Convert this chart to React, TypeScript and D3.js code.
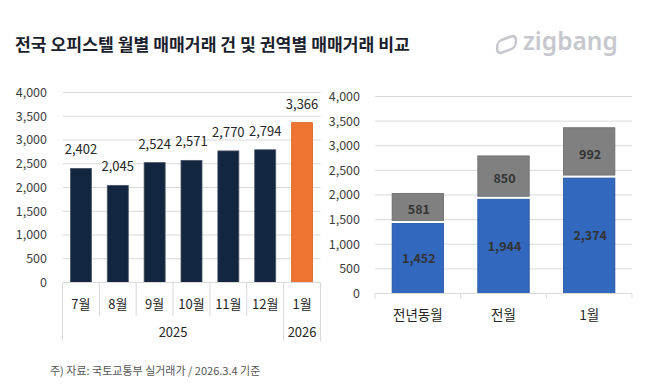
import React from 'react';
import * as d3 from 'd3';

const months = ['7월', '8월', '9월', '10월', '11월', '12월', '1월'];
const monthlyDeals = [2402, 2045, 2524, 2571, 2770, 2794, 3366];
const yearGroups = [
  { label: '2025', from: 0, to: 5 },
  { label: '2026', from: 6, to: 6 },
];
const regions = ['전년동월', '전월', '1월'];
const capitalDeals = [1452, 1944, 2374];
const otherDeals = [581, 850, 992];
const yTicks = [0, 500, 1000, 1500, 2000, 2500, 3000, 3500, 4000];

const W = 658;
const H = 390;
const FONT = "'Noto Sans CJK KR', 'Noto Sans', sans-serif";
const fmt = d3.format(',');

const LeftChart = () => {
  const x = d3.scaleBand<number>().domain(months.map((_, i) => i)).range([62.5, 320.5]).paddingInner(0.43).paddingOuter(0.215);
  const y = d3.scaleLinear().domain([0, 4000]).range([282.5, 92.5]);
  const step = x.step();
  const left = 62.5;
  return (
    <g>
      {yTicks.map((t) => (
        <g key={t}>
          {t > 0 && <line x1={left} x2={320.5} y1={y(t)} y2={y(t)} stroke="#d9d9d9" strokeWidth={1} />}
          <text x={47} y={y(t)} dy="0.35em" textAnchor="end" fontSize={12.5} fill="#404040" fontFamily={FONT}>{fmt(t)}</text>
        </g>
      ))}
      {monthlyDeals.map((v, i) => (
        <g key={i}>
          <rect x={x(i)} y={y(v)} width={x.bandwidth()} height={y(0) - y(v)}
            fill={i === monthlyDeals.length - 1 ? '#ED7431' : '#12263F'}
            stroke={i === monthlyDeals.length - 1 ? '#D8622A' : '#4a5566'} strokeWidth={0.8} />
          <text x={(x(i) as number) + x.bandwidth() / 2} y={y(v) - 14} textAnchor="middle" fontSize={13} fill="#262626" fontFamily={FONT}>{fmt(v)}</text>
        </g>
      ))}
      <line x1={left} x2={320.5} y1={y(0)} y2={y(0)} stroke="#d9d9d9" />
      {months.map((m, i) => (
        <g key={m + i}>
          <line x1={left + step * i} x2={left + step * i} y1={y(0)}
            y2={yearGroups.some((g) => g.from === i) ? 341 : 316} stroke="#d9d9d9" />
          <text x={left + step * (i + 0.5)} y={304} dy="0.35em" textAnchor="middle" fontSize={13} fill="#262626" fontFamily={FONT}>{m}</text>
        </g>
      ))}
      <line x1={left + step * months.length} x2={left + step * months.length} y1={y(0)} y2={341} stroke="#d9d9d9" />
      {yearGroups.map((g) => (
        <text key={g.label} x={left + step * ((g.from + g.to + 1) / 2)} y={332} dy="0.35em" textAnchor="middle" fontSize={13} fill="#262626" fontFamily={FONT}>{g.label}</text>
      ))}
    </g>
  );
};

const RightChart = () => {
  const x = d3.scaleBand().domain(regions).range([375, 632]).paddingInner(0.4).paddingOuter(0.2);
  const y = d3.scaleLinear().domain([0, 4000]).range([293.5, 96.5]);
  const stack = d3.stack<number>().keys(['0', '1']).value((i, k) => (k === '0' ? capitalDeals[i] : otherDeals[i]));
  const series = stack(regions.map((_, i) => i));
  const colors = ['#3269BF', '#808080'];
  const strokes = ['#1f4f9e', '#6a6a6a'];
  return (
    <g>
      {yTicks.map((t) => (
        <g key={t}>
          {t > 0 && <line x1={375} x2={632} y1={y(t)} y2={y(t)} stroke="#d9d9d9" />}
          <text x={360} y={y(t)} dy="0.35em" textAnchor="end" fontSize={12.5} fill="#404040" fontFamily={FONT}>{fmt(t)}</text>
        </g>
      ))}
      {series.map((s, si) => s.map((d, i) => {
        const x0 = x(regions[i]) as number;
        const top = y(d[1]);
        const bot = y(d[0]);
        const val = d[1] - d[0];
        return (
          <g key={si + '-' + i}>
            <rect x={x0} y={top + (si === 1 ? 0 : 1.5)} width={x.bandwidth()} height={bot - top - 1.5}
              fill={colors[si]} stroke={strokes[si]} strokeWidth={0.8} />
            <text x={x0 + x.bandwidth() / 2 + 1} y={(top + bot) / 2 + (si === 1 ? 2 : 1)} dy="0.35em" textAnchor="middle" fontSize={12.5} fontWeight="bold" fill="#333333" fontFamily={FONT}>{fmt(val)}</text>
          </g>
        );
      }))}
      <line x1={375} x2={632} y1={y(0)} y2={y(0)} stroke="#d9d9d9" />
      {d3.range(regions.length + 1).map((i) => (
        <line key={i} x1={375 + x.step() * i} x2={375 + x.step() * i} y1={y(0)} y2={y(0) + 5} stroke="#d9d9d9" />
      ))}
      {regions.map((r) => (
        <text key={r} x={(x(r) as number) + x.bandwidth() / 2} y={315} dy="0.35em" textAnchor="middle" fontSize={13.5} fill="#262626" fontFamily={FONT}>{r}</text>
      ))}
    </g>
  );
};

export default function App() {
  return (
    <svg width={W} height={H} style={{ position: 'absolute', left: 0, top: 0, background: '#fff' }}>
      <rect width={W} height={H} fill="#fff" />
      <text x={15} y={45} dy="0.35em" fontSize={17.2} fontWeight="bold" fill="#1b1f2e" fontFamily={FONT}>
        전국 오피스텔 월별 매매거래 건 및 권역별 매매거래 비교
      </text>
      <g transform="translate(506.5,44.5) rotate(-20)">
        <rect x={-10} y={-6} width={20} height={12} rx={5} fill="none" stroke="#c6c8cd" strokeWidth={2.6} transform="skewX(-20)" />
      </g>
      <text x={523} y={50} fontSize={24.5} fontWeight={600} fill="#c6c8cd" fontFamily="'Noto Sans', sans-serif">zigbang</text>
      <LeftChart />
      <RightChart />
      <text x={50} y={371} dy="0.35em" fontSize={11} fill="#555" fontFamily={FONT}>
        주) 자료: 국토교통부 실거래가 / 2026.3.4 기준
      </text>
    </svg>
  );
}
